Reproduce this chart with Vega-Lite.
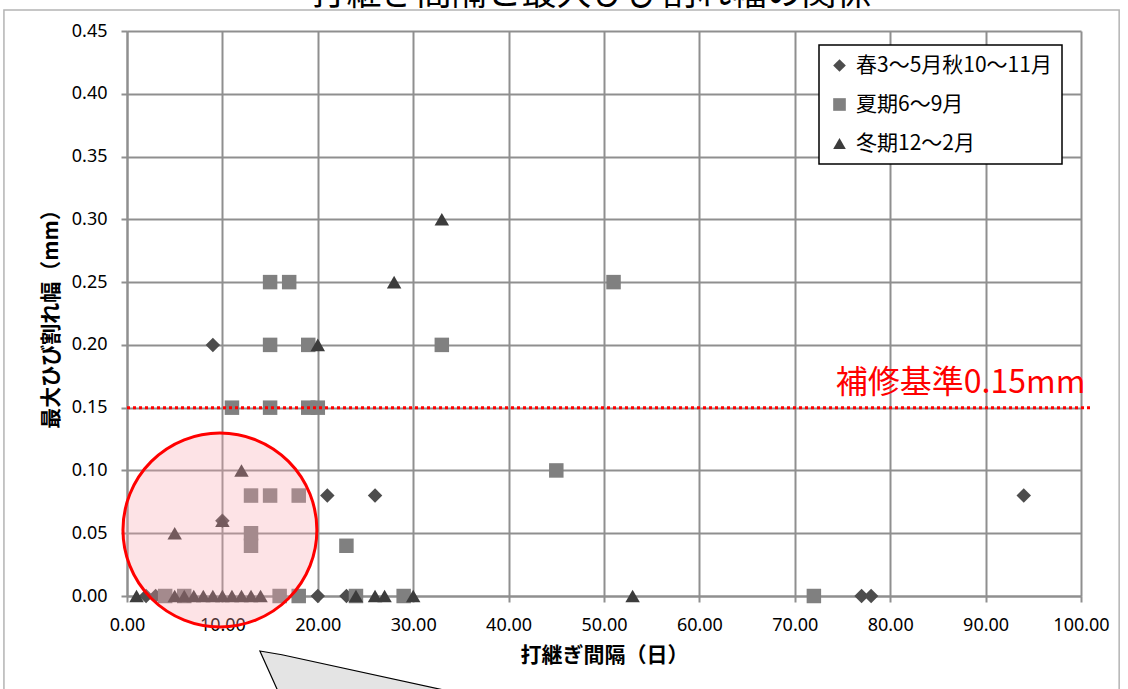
{
  "$schema": "https://vega.github.io/schema/vega-lite/v6.json",
  "width": 954,
  "height": 565,
  "autosize": {"type": "none"},
  "padding": {"left": 127, "top": 31, "right": 47, "bottom": 93},
  "background": "white",
  "config": {
    "view": {"stroke": null},
    "font": "Noto Sans CJK JP",
    "axis": {
      "gridColor": "#8f8f8f",
      "gridWidth": 2,
      "domainColor": "#8f8f8f",
      "domainWidth": 2,
      "tickColor": "#8f8f8f",
      "tickWidth": 2,
      "tickSize": 6,
      "labelFont": "Noto Sans",
      "labelFontSize": 18,
      "labelColor": "#000000",
      "labelFlush": false,
      "titleFont": "Noto Sans CJK JP",
      "titleFontSize": 21,
      "titleFontWeight": "bold",
      "titleColor": "#000000"
    },
    "legend": {
      "orient": "none",
      "legendX": 692,
      "legendY": 14,
      "direction": "vertical",
      "fillColor": "white",
      "strokeColor": "#000000",
      "strokeWidth": 1.5,
      "padding": 10,
      "rowPadding": 17,
      "labelFont": "Noto Sans CJK JP",
      "labelFontSize": 21,
      "labelColor": "#000000",
      "labelOffset": 6,
      "symbolSize": 160,
      "symbolStrokeWidth": 0,
      "labelLimit": 400
    }
  },
  "datasets": {
    "pts": [
      {"days": 9, "width": 0.20, "season": "春3～5月秋10～11月"},
      {"days": 10, "width": 0.06, "season": "春3～5月秋10～11月"},
      {"days": 21, "width": 0.08, "season": "春3～5月秋10～11月"},
      {"days": 26, "width": 0.08, "season": "春3～5月秋10～11月"},
      {"days": 94, "width": 0.08, "season": "春3～5月秋10～11月"},
      {"days": 2, "width": 0.00, "season": "春3～5月秋10～11月"},
      {"days": 3, "width": 0.00, "season": "春3～5月秋10～11月"},
      {"days": 20, "width": 0.00, "season": "春3～5月秋10～11月"},
      {"days": 23, "width": 0.00, "season": "春3～5月秋10～11月"},
      {"days": 77, "width": 0.00, "season": "春3～5月秋10～11月"},
      {"days": 78, "width": 0.00, "season": "春3～5月秋10～11月"},
      {"days": 15, "width": 0.25, "season": "夏期6～9月"},
      {"days": 17, "width": 0.25, "season": "夏期6～9月"},
      {"days": 51, "width": 0.25, "season": "夏期6～9月"},
      {"days": 15, "width": 0.20, "season": "夏期6～9月"},
      {"days": 19, "width": 0.20, "season": "夏期6～9月"},
      {"days": 33, "width": 0.20, "season": "夏期6～9月"},
      {"days": 11, "width": 0.15, "season": "夏期6～9月"},
      {"days": 15, "width": 0.15, "season": "夏期6～9月"},
      {"days": 19, "width": 0.15, "season": "夏期6～9月"},
      {"days": 20, "width": 0.15, "season": "夏期6～9月"},
      {"days": 45, "width": 0.10, "season": "夏期6～9月"},
      {"days": 13, "width": 0.08, "season": "夏期6～9月"},
      {"days": 15, "width": 0.08, "season": "夏期6～9月"},
      {"days": 18, "width": 0.08, "season": "夏期6～9月"},
      {"days": 13, "width": 0.05, "season": "夏期6～9月"},
      {"days": 13, "width": 0.04, "season": "夏期6～9月"},
      {"days": 23, "width": 0.04, "season": "夏期6～9月"},
      {"days": 4, "width": 0.00, "season": "夏期6～9月"},
      {"days": 6, "width": 0.00, "season": "夏期6～9月"},
      {"days": 16, "width": 0.00, "season": "夏期6～9月"},
      {"days": 18, "width": 0.00, "season": "夏期6～9月"},
      {"days": 24, "width": 0.00, "season": "夏期6～9月"},
      {"days": 29, "width": 0.00, "season": "夏期6～9月"},
      {"days": 72, "width": 0.00, "season": "夏期6～9月"},
      {"days": 33, "width": 0.30, "season": "冬期12～2月"},
      {"days": 28, "width": 0.25, "season": "冬期12～2月"},
      {"days": 20, "width": 0.20, "season": "冬期12～2月"},
      {"days": 12, "width": 0.10, "season": "冬期12～2月"},
      {"days": 10, "width": 0.06, "season": "冬期12～2月"},
      {"days": 5, "width": 0.05, "season": "冬期12～2月"},
      {"days": 1, "width": 0.00, "season": "冬期12～2月"},
      {"days": 5, "width": 0.00, "season": "冬期12～2月"},
      {"days": 6, "width": 0.00, "season": "冬期12～2月"},
      {"days": 7, "width": 0.00, "season": "冬期12～2月"},
      {"days": 8, "width": 0.00, "season": "冬期12～2月"},
      {"days": 9, "width": 0.00, "season": "冬期12～2月"},
      {"days": 10, "width": 0.00, "season": "冬期12～2月"},
      {"days": 11, "width": 0.00, "season": "冬期12～2月"},
      {"days": 12, "width": 0.00, "season": "冬期12～2月"},
      {"days": 13, "width": 0.00, "season": "冬期12～2月"},
      {"days": 14, "width": 0.00, "season": "冬期12～2月"},
      {"days": 24, "width": 0.00, "season": "冬期12～2月"},
      {"days": 26, "width": 0.00, "season": "冬期12～2月"},
      {"days": 27, "width": 0.00, "season": "冬期12～2月"},
      {"days": 30, "width": 0.00, "season": "冬期12～2月"},
      {"days": 53, "width": 0.00, "season": "冬期12～2月"}
    ],
    "callout": [
      {"cx": 13.93, "top": -0.0438, "bottom": -0.0438},
      {"cx": 16.24, "top": -0.0468, "bottom": -0.0828},
      {"cx": 38.0, "top": -0.0828, "bottom": -0.0828}
    ],
    "one": [{"k": 1}]
  },
  "layer": [
    {
      "data": {"name": "one"},
      "mark": {"type": "rect", "fill": null, "filled": false, "stroke": "#b4b4b4", "strokeWidth": 1.5, "clip": false},
      "encoding": {
        "x": {"datum": -12.9, "type": "quantitative", "scale": {"domain": [0, 100], "nice": false, "zero": false}, "title": "打継ぎ間隔（日）"},
        "x2": {"datum": 104.0},
        "y": {"datum": 0.4667, "type": "quantitative", "scale": {"domain": [0, 0.45], "nice": false, "zero": false}, "title": "最大ひび割れ幅（mm）"},
        "y2": {"datum": -0.3}
      }
    },
    {
      "data": {"name": "callout"},
      "mark": {"type": "area", "fill": "#e4e4e4", "stroke": "#000000", "strokeWidth": 1.2, "clip": false, "orient": "vertical"},
      "encoding": {
        "x": {"field": "cx", "type": "quantitative", "scale": {"domain": [0, 100], "nice": false, "zero": false}, "title": "打継ぎ間隔（日）"},
        "y": {"field": "top", "type": "quantitative", "scale": {"domain": [0, 0.45], "nice": false, "zero": false}, "title": "最大ひび割れ幅（mm）"},
        "y2": {"field": "bottom"}
      }
    },
    {
      "data": {"name": "pts"},
      "mark": {"type": "point", "filled": true, "opacity": 1, "size": 210},
      "encoding": {
        "x": {
          "field": "days", "type": "quantitative",
          "scale": {"domain": [0, 100], "nice": false, "zero": false},
          "axis": {"values": [0, 10, 20, 30, 40, 50, 60, 70, 80, 90, 100], "format": ".2f", "labelPadding": 14, "titlePadding": 10, "grid": true},
          "title": "打継ぎ間隔（日）"
        },
        "y": {
          "field": "width", "type": "quantitative",
          "scale": {"domain": [0, 0.45], "nice": false, "zero": false},
          "axis": {"values": [0, 0.05, 0.1, 0.15, 0.2, 0.25, 0.3, 0.35, 0.4, 0.45], "format": ".2f", "labelPadding": 14, "titlePadding": 10, "grid": true},
          "title": "最大ひび割れ幅（mm）"
        },
        "color": {
          "field": "season", "type": "nominal",
          "scale": {"domain": ["春3～5月秋10～11月", "夏期6～9月", "冬期12～2月"], "range": ["#4d4d4d", "#808080", "#3c3c3c"]},
          "legend": {"title": null}
        },
        "shape": {
          "field": "season", "type": "nominal",
          "scale": {"domain": ["春3～5月秋10～11月", "夏期6～9月", "冬期12～2月"], "range": ["diamond", "square", "triangle-up"]},
          "legend": {"title": null}
        }
      }
    },
    {
      "data": {"name": "one"},
      "mark": {"type": "point", "shape": "circle", "filled": true, "fill": "#f7a1ab", "fillOpacity": 0.3, "stroke": "#ff0000", "strokeOpacity": 1, "strokeWidth": 3, "size": 37600, "clip": false},
      "encoding": {
        "x": {"datum": 9.74, "type": "quantitative"},
        "y": {"datum": 0.0526, "type": "quantitative"}
      }
    },
    {
      "data": {"name": "one"},
      "mark": {"type": "rule", "stroke": "#ff0000", "strokeWidth": 3, "strokeDash": [3, 3], "clip": false},
      "encoding": {
        "x": {"datum": 0, "type": "quantitative"},
        "x2": {"datum": 101.2},
        "y": {"datum": 0.15, "type": "quantitative"}
      }
    },
    {
      "data": {"name": "one"},
      "mark": {"type": "text", "text": "補修基準0.15mm", "color": "#ff0000", "fontSize": 32, "align": "left", "baseline": "alphabetic", "font": "Noto Sans CJK JP", "clip": false},
      "encoding": {
        "x": {"datum": 74.3, "type": "quantitative"},
        "y": {"datum": 0.1617, "type": "quantitative"}
      }
    },
    {
      "data": {"name": "one"},
      "mark": {"type": "text", "text": "打継ぎ間隔と最大ひび割れ幅の関係", "color": "#000000", "fontSize": 35, "align": "center", "baseline": "alphabetic", "font": "Noto Sans CJK JP", "clip": false},
      "encoding": {
        "x": {"datum": 48.7, "type": "quantitative"},
        "y": {"datum": 0.4707, "type": "quantitative"}
      }
    }
  ]
}
